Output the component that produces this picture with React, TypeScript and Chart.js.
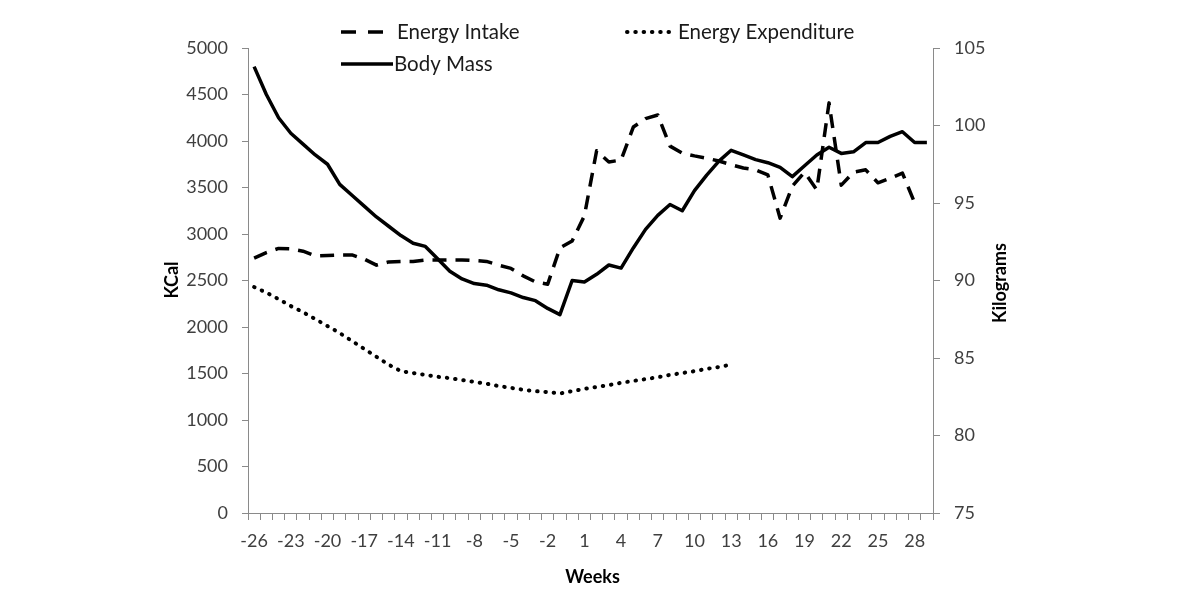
import React, { useEffect, useRef } from "react";
import { Chart, registerables } from "chart.js";

Chart.register(...registerables);

// Study weeks relative to the intervention start
const weeks = [
  "-26", "-25", "-24", "-23", "-22", "-21", "-20", "-19", "-18", "-17",
  "-16", "-15", "-14", "-13", "-12", "-11", "-10", "-9", "-8", "-7",
  "-6", "-5", "-4", "-3", "-2", "-1", "0", "1", "2", "3",
  "4", "5", "6", "7", "8", "9", "10", "11", "12", "13",
  "14", "15", "16", "17", "18", "19", "20", "21", "22", "23",
  "24", "25", "26", "27", "28", "29",
];

// Weekly energy intake (kcal)
const energyIntake: (number | null)[] = [
  2740, 2800, 2845, 2840, 2815, 2765, 2770, 2775, 2775, 2730,
  2665, 2700, 2705, 2705, 2720, 2720, 2720, 2720, 2715, 2705,
  2665, 2630, 2550, 2485, 2460, 2850, 2925, 3195, 3895, 3775,
  3795, 4150, 4240, 4280, 3945, 3870, 3840, 3815, 3785, 3745,
  3710, 3690, 3635, 3170, 3515, 3665, 3475, 4410, 3525, 3665,
  3690, 3550, 3600, 3655, 3335, null,
];

// Weekly energy expenditure (kcal), recorded through week 13
const energyExpenditure: (number | null)[] = [
  2430, 2370, 2300, 2225, 2160, 2085, 2010, 1935, 1850, 1765,
  1680, 1595, 1525, 1505, 1485, 1465, 1450, 1430, 1410, 1390,
  1365, 1345, 1325, 1310, 1300, 1285, 1310, 1335, 1355, 1375,
  1400, 1420, 1440, 1460, 1485, 1505, 1525, 1550, 1570, 1595,
  null, null, null, null, null, null, null, null, null, null,
  null, null, null, null, null, null,
];

// Weekly body mass (kg)
const bodyMass: number[] = [
  103.8, 102.0, 100.5, 99.5, 98.8, 98.1, 97.5, 96.2, 95.5, 94.8,
  94.1, 93.5, 92.9, 92.4, 92.2, 91.4, 90.6, 90.1, 89.8, 89.7,
  89.4, 89.2, 88.9, 88.7, 88.2, 87.8, 90.0, 89.9, 90.4, 91.0,
  90.8, 92.1, 93.3, 94.2, 94.9, 94.5, 95.8, 96.8, 97.7, 98.4,
  98.1, 97.8, 97.6, 97.3, 96.7, 97.4, 98.1, 98.6, 98.2, 98.3,
  98.9, 98.9, 99.3, 99.6, 98.9, 98.9,
];

const FONT = "Lato, 'Open Sans', sans-serif";
const AXIS_GREY = "#8a8a8a";
const TICK_TEXT = "#3f3f3f";

// Legend slots: [sample start, sample end, text x, row y]
const legendSlots = [
  { x0: 341, x1: 388, tx: 397, y: 32 },
  { x0: 627, x1: 672, tx: 678, y: 32 },
  { x0: 341, x1: 393, tx: 394, y: 64 },
];

const decorPlugin = {
  id: "decor",
  afterDraw(chart: any) {
    const { ctx, chartArea } = chart;
    ctx.save();

    // Legend
    chart.data.datasets.forEach((ds: any, i: number) => {
      const slot = legendSlots[i];
      if (!slot) return;
      ctx.beginPath();
      ctx.strokeStyle = "#000";
      ctx.lineWidth = ds.borderWidth;
      ctx.lineCap = ds.borderCapStyle || "butt";
      ctx.setLineDash(ds.legendDash || ds.borderDash || []);
      ctx.moveTo(slot.x0, slot.y);
      ctx.lineTo(slot.x1, slot.y);
      ctx.stroke();
      ctx.setLineDash([]);
      ctx.fillStyle = "#1a1a1a";
      ctx.font = `20.5px ${FONT}`;
      ctx.textAlign = "left";
      ctx.textBaseline = "middle";
      ctx.fillText(ds.label, slot.tx, slot.y);
    });

    // Axis titles
    ctx.fillStyle = "#000";
    ctx.font = `bold 18px ${FONT}`;
    ctx.textAlign = "center";
    ctx.textBaseline = "middle";
    ctx.fillText("Weeks", (chartArea.left + chartArea.right) / 2 + 2, 577);

    ctx.save();
    ctx.translate(172, 280);
    ctx.rotate(-Math.PI / 2);
    ctx.fillText("KCal", 0, 0);
    ctx.restore();

    ctx.save();
    ctx.translate(1000, 283);
    ctx.rotate(-Math.PI / 2);
    ctx.fillText("Kilograms", 0, 0);
    ctx.restore();

    ctx.restore();
  },
};

const plainNumber = (value: any) => String(value);

export default function App() {
  const canvasRef = useRef<HTMLCanvasElement | null>(null);

  useEffect(() => {
    if (!canvasRef.current) return;
    const chart = new Chart(canvasRef.current, {
      type: "line",
      data: {
        labels: weeks,
        datasets: [
          {
            label: "Energy Intake",
            data: energyIntake,
            yAxisID: "y",
            borderColor: "#000",
            borderWidth: 3.5,
            borderDash: [14, 9],
            legendDash: [15, 12],
            borderCapStyle: "butt",
            borderJoinStyle: "round",
            pointRadius: 0,
            tension: 0,
            spanGaps: false,
          } as any,
          {
            label: "Energy Expenditure",
            data: energyExpenditure,
            yAxisID: "y",
            borderColor: "#000",
            borderWidth: 4,
            borderDash: [0.5, 7.8],
            borderCapStyle: "round",
            borderJoinStyle: "round",
            pointRadius: 0,
            tension: 0,
            spanGaps: false,
          } as any,
          {
            label: "Body Mass",
            data: bodyMass,
            yAxisID: "y1",
            borderColor: "#000",
            borderWidth: 3.5,
            borderCapStyle: "butt",
            borderJoinStyle: "round",
            pointRadius: 0,
            tension: 0,
          } as any,
        ],
      },
      options: {
        responsive: false,
        animation: false,
        devicePixelRatio: 1,
        layout: { padding: { top: 48, left: 0, right: 0, bottom: 0 } },
        plugins: {
          legend: { display: false },
          tooltip: { enabled: false },
        },
        scales: {
          x: {
            type: "category",
            offset: true,
            grid: {
              display: true,
              offset: true,
              drawOnChartArea: false,
              drawTicks: true,
              tickLength: 7,
              color: AXIS_GREY,
            },
            border: { display: true, color: AXIS_GREY, width: 1 },
            ticks: {
              autoSkip: false,
              maxRotation: 0,
              minRotation: 0,
              padding: 10,
              color: TICK_TEXT,
              font: { family: FONT, size: 18 },
              callback: function (this: any, value: any, index: number) {
                return index % 3 === 0 ? this.getLabelForValue(value) : "";
              },
            },
            afterFit: (scale: any) => {
              scale.height = 87;
            },
          },
          y: {
            type: "linear",
            position: "left",
            min: 0,
            max: 5000,
            grid: {
              display: true,
              drawOnChartArea: false,
              drawTicks: true,
              tickLength: 6,
              color: AXIS_GREY,
            },
            border: { display: true, color: AXIS_GREY, width: 1 },
            ticks: {
              stepSize: 500,
              padding: 14,
              color: TICK_TEXT,
              font: { family: FONT, size: 18 },
              callback: plainNumber,
            },
            afterFit: (scale: any) => {
              scale.width = 248;
            },
          },
          y1: {
            type: "linear",
            position: "right",
            min: 75,
            max: 105,
            grid: {
              display: true,
              drawOnChartArea: false,
              drawTicks: true,
              tickLength: 7,
              color: AXIS_GREY,
            },
            border: { display: true, color: AXIS_GREY, width: 1 },
            ticks: {
              stepSize: 5,
              padding: 14,
              color: TICK_TEXT,
              font: { family: FONT, size: 18 },
              callback: plainNumber,
            },
            afterFit: (scale: any) => {
              scale.width = 267;
            },
          },
        },
      },
      plugins: [decorPlugin],
    });
    return () => chart.destroy();
  }, []);

  return (
    <div style={{ position: "fixed", left: 0, top: 0, width: 1200, height: 600, background: "#fff" }}>
      <canvas ref={canvasRef} width={1200} height={600} />
    </div>
  );
}
